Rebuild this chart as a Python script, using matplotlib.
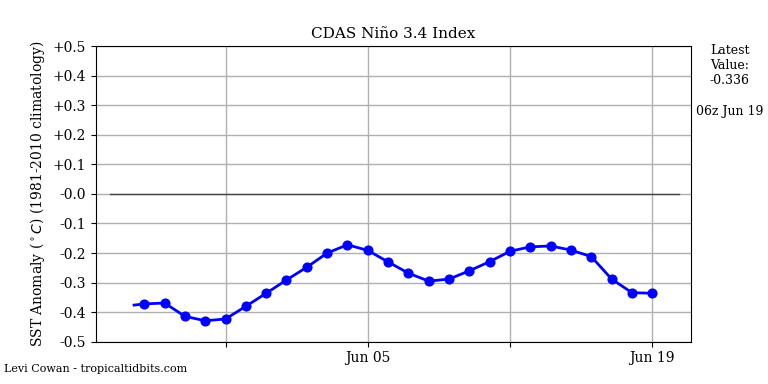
import matplotlib
matplotlib.use("Agg")
import matplotlib.pyplot as plt
import matplotlib.dates as mdates
import numpy as np
import datetime as dt

# Data (daily 00z values)
start_date = dt.datetime(2019, 5, 25)
values = [-0.372, -0.369, -0.414, -0.429, -0.423, -0.380, -0.336, -0.291,
          -0.248, -0.200, -0.172, -0.191, -0.230, -0.268, -0.295, -0.288,
          -0.260, -0.229, -0.194, -0.179, -0.176, -0.190, -0.212, -0.288,
          -0.334, -0.336]
line_start_value = -0.376  # 12z the day before first dot
yticks = [-0.5, -0.4, -0.3, -0.2, -0.1, 0.0, 0.1, 0.2, 0.3, 0.4, 0.5]
ytick_labels = ["-0.5", "-0.4", "-0.3", "-0.2", "-0.1", "-0.0",
                "+0.1", "+0.2", "+0.3", "+0.4", "+0.5"]
tick_dates = [dt.datetime(2019, 5, 29), dt.datetime(2019, 6, 5),
              dt.datetime(2019, 6, 12), dt.datetime(2019, 6, 19)]
tick_labels = ["", "Jun 05", "", "Jun 19"]
latest_value = -0.336
latest_time = "06z Jun 19"

plt.rcParams['font.family'] = ['DejaVu Serif']
fig = plt.figure(figsize=(7.68, 3.84), dpi=100)
ax = fig.add_axes([0.125, 0.11, 0.775, 0.77])

dates = [start_date + dt.timedelta(days=i) for i in range(len(values))]
line_dates = [start_date - dt.timedelta(hours=12)] + dates
line_vals = [line_start_value] + values

ax.plot([dt.datetime(2019, 5, 23, 7), dt.datetime(2019, 6, 20, 7)], [0, 0],
        color='#444444', lw=1, zorder=2)
ax.plot(line_dates, line_vals, color='blue', lw=2.0, solid_joinstyle='round', zorder=3)
ax.plot(dates, values, 'o', color='blue', ms=6.3, zorder=4)

ax.set_xlim(dt.datetime(2019, 5, 22, 15), dt.datetime(2019, 6, 20, 22))
ax.set_ylim(-0.5, 0.5)
ax.set_yticks(yticks)
ax.set_yticklabels(ytick_labels, fontsize=10)
ax.set_xticks(tick_dates)
ax.set_xticklabels(tick_labels, fontsize=10)
ax.grid(True, color='#b0b0b0', lw=1)
ax.set_axisbelow(True)

ax.set_title("CDAS Niño 3.4 Index", fontsize=11)
ax.set_ylabel(r"SST Anomaly ($^\circ C$) (1981-2010 climatology)", fontsize=10)

fig.text(0.950, 0.885, "Latest\nValue:\n%.3f" % latest_value, ha='center', va='top',
         fontsize=9, linespacing=1.2)
fig.text(0.906, 0.71, latest_time, ha='left', va='center', fontsize=9)
fig.text(0.005, 0.038, "Levi Cowan - tropicaltidbits.com", ha='left', va='center', fontsize=8)

fig.savefig("out.png", dpi=100)
